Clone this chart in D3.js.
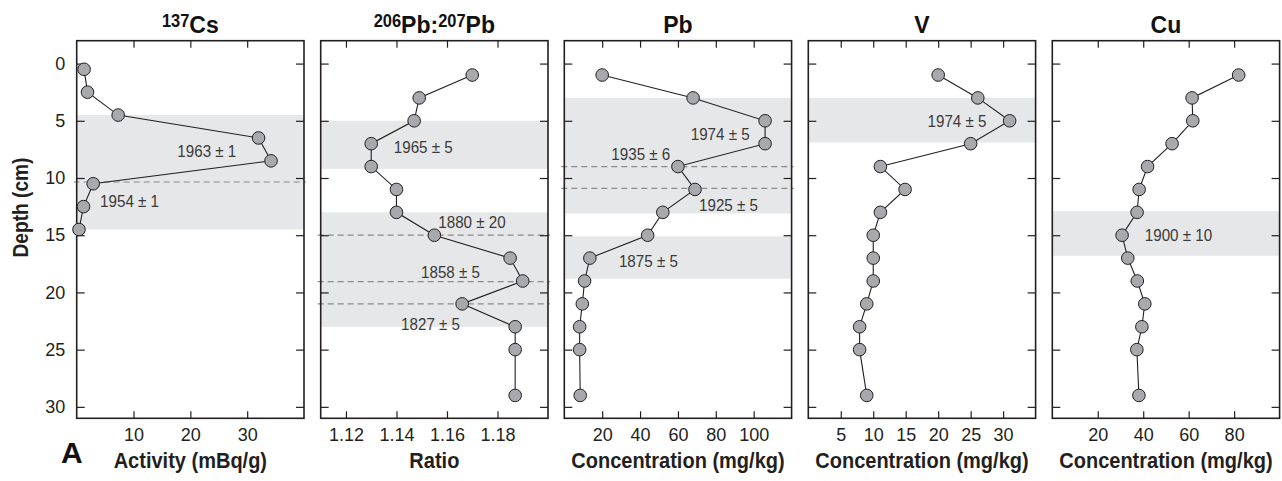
<!DOCTYPE html>
<html><head><meta charset="utf-8">
<script src="https://cdn.jsdelivr.net/npm/d3@7/dist/d3.min.js"></script>
<style>
body{margin:0;background:#fff;}
svg text{font-family:"Liberation Sans",Arial,sans-serif;}
</style></head>
<body><svg id="c" width="1282" height="481"></svg>
<script>
// ---- data ----
const depths = [1,3,5,7,9,11,13,15,17,19,21,23,25,29];
const csDepths = [0.5,2.5,4.5,6.5,8.5,10.5,12.5,14.5];
const csActivity = [1.3,1.9,7.3,32.0,34.2,2.9,1.2,0.4];
const pbRatio = [1.170,1.149,1.147,1.130,1.130,1.140,1.140,1.155,1.185,1.190,1.166,1.187,1.187,1.187];
const pbConc = [20,68,106,106,60,69,52,44,13.5,10.7,9.5,8.1,8.1,8.4];
const vConc = [20,26.1,31,25,11.1,14.9,11.1,10,10,10,9,7.9,7.9,9];
const cuConc = [82,61.5,61.8,52.7,41.9,38.2,37.3,30.7,33.2,37.4,40.7,39.4,37.2,38.1];

const titles = [["137","Cs"],["206","Pb:","207","Pb"],["","Pb"],["","V"],["","Cu"]];
const xTitles = ["Activity (mBq/g)","Ratio","Concentration (mg/kg)","Concentration (mg/kg)","Concentration (mg/kg)"];
const yTitle = "Depth (cm)";
const panelLetter = "A";
const xDomains = [[0,40],[1.11,1.20],[0,120],[0,35],[0,100]];
const xTickVals = [[10,20,30],[1.12,1.14,1.16,1.18],[20,40,60,80,100],[5,10,15,20,25,30],[20,40,60,80]];
const yTickVals = [0,5,10,15,20,25,30];
const depthDomain = [-2,31];
// shaded bands [top depth, bottom depth]
const bands = [
  [[4.5,14.5]],
  [[5,9.2],[13,23]],
  [[3,13.1],[15.1,18.8]],
  [[3,6.9]],
  [[12.9,16.8]]
];
// dashed horizon lines (depth)
const dashes = [[10.35],[15,19.05,21],[9,10.9],[],[]];
// annotations [text, x value, depth]
const notes = [
  [["1963 ± 1",22.9,7.64],["1954 ± 1",9.3,12.0]],
  [["1965 ± 5",1.1506,7.35],["1880 ± 20",1.1699,13.9],["1858 ± 5",1.1614,18.2],["1827 ± 5",1.1535,22.76]],
  [["1974 ± 5",82.3,6.18],["1935 ± 6",40.4,7.93],["1925 ± 5",86.7,12.34],["1875 ± 5",44.4,17.26]],
  [["1974 ± 5",22.9,5.05]],
  [["1900 ± 10",55.5,15.0]]
];
const series = [
  {d:csDepths, v:csActivity},
  {d:depths, v:pbRatio},
  {d:depths, v:pbConc},
  {d:depths, v:vConc},
  {d:depths, v:cuConc}
];

// ---- layout ----
const svg = d3.select("#c");
const plotTop = 40.7, plotBottom = 418.3, pw = 227.3;
const lefts = [76.7,320.7,564.3,808.3,1052.3];
const y = d3.scaleLinear().domain(depthDomain).range([plotTop,plotBottom]);
const frameCol = "#231f20";

function condText(parent, x, yy, sx, rot){
  return parent.append("text")
    .attr("transform",`translate(${x},${yy})${rot?` rotate(${rot})`:""} scale(${sx},1)`);
}

lefts.forEach((L,i)=>{
  const x = d3.scaleLinear().domain(xDomains[i]).range([L,L+pw]);
  const g = svg.append("g");
  bands[i].forEach(b=>{
    g.append("rect").attr("x",L).attr("width",pw)
     .attr("y",y(b[0])).attr("height",y(b[1])-y(b[0]))
     .attr("fill","#e6e7e8");
  });
  dashes[i].forEach(dv=>{
    g.append("line").attr("x1",L-3).attr("x2",L+pw+2)
     .attr("y1",y(dv)).attr("y2",y(dv))
     .attr("stroke","#8a8a8a").attr("stroke-width",1.2)
     .attr("stroke-dasharray","6,4");
  });
  const fmt = i===1 ? d3.format(".2f") : d3.format("d");
  const ax = g.append("g").attr("transform",`translate(0,${plotBottom})`)
    .call(d3.axisBottom(x).tickValues(xTickVals[i]).tickSize(-7).tickPadding(10).tickFormat(fmt));
  const axT = g.append("g").attr("transform",`translate(0,${plotTop})`)
    .call(d3.axisTop(x).tickValues(xTickVals[i]).tickSize(-7).tickFormat(""));
  const ayL = g.append("g").attr("transform",`translate(${L},0)`)
    .call(d3.axisLeft(y).tickValues(yTickVals).tickSize(-8).tickPadding(11.5).tickFormat(i===0?d3.format("d"):""));
  const ayR = g.append("g").attr("transform",`translate(${L+pw},0)`)
    .call(d3.axisRight(y).tickValues(yTickVals).tickSize(-8).tickFormat(""));
  [ax,axT,ayL,ayR].forEach(a=>{
    a.select(".domain").remove();
    a.selectAll(".tick line").attr("stroke",frameCol).attr("stroke-width",1.2);
    a.selectAll(".tick text").attr("fill","#231f20").style("font-size","18px");
  });
  g.append("rect").attr("x",L).attr("y",plotTop).attr("width",pw).attr("height",plotBottom-plotTop)
   .attr("fill","none").attr("stroke",frameCol).attr("stroke-width",1.6);
  notes[i].forEach(n=>{
    condText(g, x(n[1]), y(n[2]), 0.92)
     .attr("text-anchor","middle").attr("dominant-baseline","central")
     .attr("fill","#3a3a3a").style("font-size","16.5px").text(n[0]);
  });
  const s = series[i];
  const pts = s.d.map((d,k)=>[x(s.v[k]),y(d)]);
  g.append("path").attr("d",d3.line()(pts)).attr("fill","none")
   .attr("stroke","#231f20").attr("stroke-width",1.1);
  g.selectAll("circle").data(pts).enter().append("circle")
   .attr("cx",p=>p[0]).attr("cy",p=>p[1]).attr("r",6.3)
   .attr("fill","#a7a9ac").attr("stroke","#231f20").attr("stroke-width",1);
  const t = condText(g, L+pw/2, 33, 0.94).attr("text-anchor","middle")
    .attr("fill","#111").style("font-weight","bold");
  const parts = titles[i];
  for(let k=0;k<parts.length;k+=2){
    if(parts[k]) t.append("tspan").attr("dy",-6).style("font-size","17.5px").text(parts[k]);
    t.append("tspan").attr("dy",parts[k]?6:0).style("font-size","24.5px").text(parts[k+1]);
  }
  condText(g, L+pw/2, 468, 0.91).attr("text-anchor","middle")
   .attr("fill","#231f20").style("font-weight","bold").style("font-size","22px").text(xTitles[i]);
});

condText(svg, 28, 207.5, 0.87, -90).attr("text-anchor","middle")
  .attr("fill","#231f20").style("font-weight","bold").style("font-size","22px").text(yTitle);
svg.append("text").attr("x",61).attr("y",463).attr("fill","#111")
  .style("font-weight","bold").style("font-size","30px").text(panelLetter);
</script></body></html>
